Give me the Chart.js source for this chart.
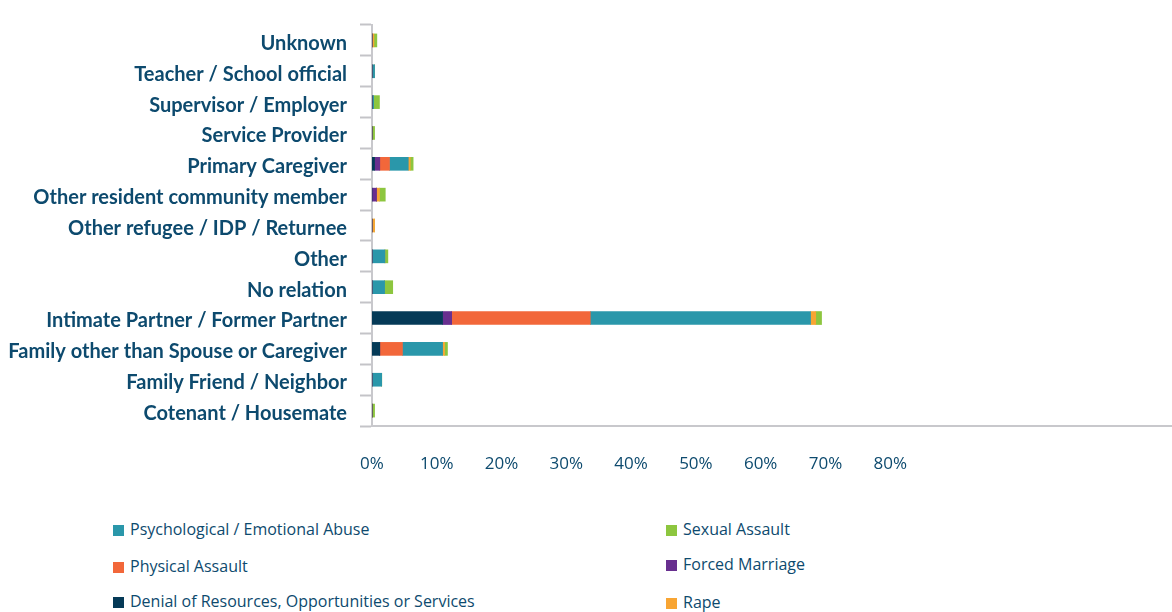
<!DOCTYPE html>
<html>
<head>
<meta charset="utf-8">
<script src="https://cdn.jsdelivr.net/npm/chart.js@4.4.1/dist/chart.umd.min.js"></script>
<style>
  body { margin: 0; background: #fff; }
  #wrap { position: relative; width: 1172px; height: 612px; }
  #chart-box { position: absolute; left: 0; top: 0; width: 1172px; height: 480px; }
  #legend { position: absolute; left: 0; top: 0; font-family: 'Open Sans', sans-serif; font-size: 16px; color: #0d4a6e; }
  .item { position: absolute; white-space: nowrap; line-height: 18px; }
  .item span.box { display: inline-block; width: 11px; height: 11px; margin-right: 6px; vertical-align: -1px; }
</style>
</head>
<body>
<div id="wrap">
  <div id="chart-box"><canvas id="chart"></canvas></div>
  <div id="legend"></div>
</div>
<script>
// categories, top to bottom
const categories = [
  'Unknown', 'Teacher / School official', 'Supervisor / Employer', 'Service Provider',
  'Primary Caregiver', 'Other resident community member', 'Other refugee / IDP / Returnee',
  'Other', 'No relation', 'Intimate Partner / Former Partner',
  'Family other than Spouse or Caregiver', 'Family Friend / Neighbor', 'Cotenant / Housemate'
]

// series values (% of cases), same order as categories
const denial = [0, 0, 0, 0, 0.4, 0, 0, 0, 0, 10.9, 1.2, 0, 0]
const forcedMarriage = [0, 0, 0, 0, 0.8, 0.7, 0, 0, 0, 1.4, 0, 0, 0]
const physical = [0, 0, 0, 0, 1.5, 0, 0, 0, 0, 21.4, 3.5, 0, 0]
const psychological = [0, 0.4, 0.25, 0, 2.9, 0, 0, 2.0, 1.95, 34.0, 6.2, 1.5, 0]
const rape = [0.3, 0, 0, 0, 0.3, 0.45, 0.4, 0, 0, 0.8, 0.3, 0, 0]
const sexual = [0.45, 0, 0.9, 0.4, 0.45, 0.9, 0, 0.45, 1.25, 0.9, 0.45, 0, 0.4]

// tick labels shown on the x axis
const xTicks = [0, 10, 20, 30, 40, 50, 60, 70, 80]

// colours
const colours = {
  denial: '#053a57',
  forced: '#682f8f',
  physical: '#f2673a',
  psych: '#2a97aa',
  rape: '#f8a533',
  sexual: '#8dc63f'
}
const textColour = '#0d4a6e'

const datasets = [
  { label: 'Denial of Resources, Opportunities or Services', data: denial, backgroundColor: colours.denial },
  { label: 'Forced Marriage', data: forcedMarriage, backgroundColor: colours.forced },
  { label: 'Physical Assault', data: physical, backgroundColor: colours.physical },
  { label: 'Psychological / Emotional Abuse', data: psychological, backgroundColor: colours.psych },
  { label: 'Rape', data: rape, backgroundColor: colours.rape },
  { label: 'Sexual Assault', data: sexual, backgroundColor: colours.sexual }
]
datasets.forEach(d => { d.barThickness = 13; d.borderWidth = 0 })

const chart = new Chart(document.getElementById('chart'), {
  type: 'bar',
  data: { labels: categories, datasets },
  options: {
    indexAxis: 'y',
    responsive: true,
    maintainAspectRatio: false,
    animation: false,
    layout: { padding: { top: 19, right: 0, left: 0, bottom: 0 } },
    plugins: { legend: { display: false }, tooltip: { enabled: false } },
    scales: {
      x: {
        stacked: true,
        min: 0,
        max: 123.5,
        grid: { display: false },
        border: { color: '#c8c8cc', width: 2 },
        afterBuildTicks: (scale) => { scale.ticks = xTicks.map(v => ({ value: v })) },
        afterFit: (scale) => { scale.height = 54 },
        ticks: {
          padding: 20,
          color: textColour,
          font: { family: 'Open Sans', size: 17 },
          callback: (v) => v + '%'
        }
      },
      y: {
        stacked: true,
        afterFit: (scale) => { scale.width = 372 },
        grid: {
          drawOnChartArea: false,
          drawTicks: true,
          tickLength: 12,
          tickWidth: 2,
          offset: true,
          color: (ctx) => ctx.index === categories.length ? 'rgba(0,0,0,0)' : '#c4c4c8'
        },
        border: { color: '#c8c8cc', width: 2 },
        ticks: {
          padding: 13,
          labelOffset: 3,
          color: textColour,
          font: { family: 'Lato', size: 20, weight: 'bold' }
        }
      }
    }
  }
})

// html legend in two columns, built from the chart datasets
const legendOrder = [
  ['Psychological / Emotional Abuse', 113, 520],
  ['Sexual Assault', 666, 520],
  ['Physical Assault', 113, 557],
  ['Forced Marriage', 666, 555],
  ['Denial of Resources, Opportunities or Services', 113, 592],
  ['Rape', 666, 593]
]
const legendEl = document.getElementById('legend')
legendOrder.forEach(([label, x, y]) => {
  const ds = chart.data.datasets.find(d => d.label === label)
  const div = document.createElement('div')
  div.className = 'item'
  div.style.left = x + 'px'
  div.style.top = y + 'px'
  div.innerHTML = `<span class="box" style="background:${ds.backgroundColor}"></span>${ds.label}`
  legendEl.appendChild(div)
})
</script>
</body>
</html>
